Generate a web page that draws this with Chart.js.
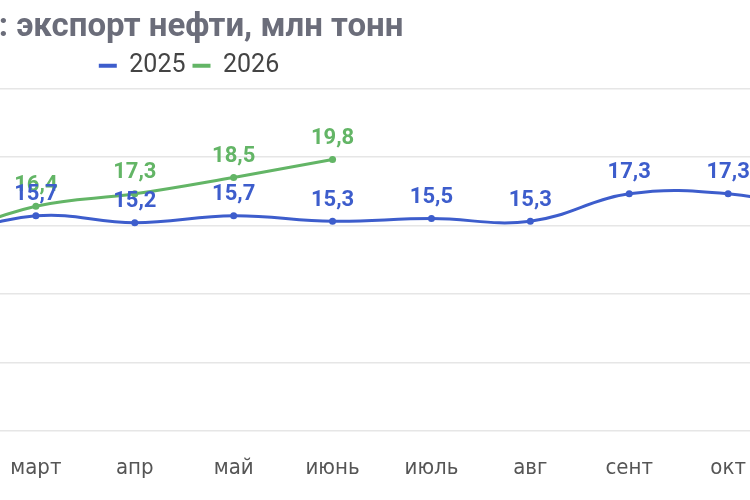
<!DOCTYPE html>
<html>
<head>
<meta charset="utf-8">
<script src="https://cdn.jsdelivr.net/npm/chart.js@4/dist/chart.umd.min.js"></script>
<style>
  html, body { margin: 0; padding: 0; background: #fff; overflow: hidden; width: 750px; height: 500px; }
  /* the picture is a crop of a wider chart, so the canvas runs past both edges */
  #myChart { position: absolute; left: -453px; top: 0; }
</style>
</head>
<body>
<canvas id="myChart" width="1284" height="500"></canvas>
<script>
const months = ["фев", "март", "апр", "май", "июнь", "июль", "авг", "сент", "окт", "ноя"];
const exports2025 = [14.0, 15.7, 15.2, 15.7, 15.3, 15.5, 15.3, 17.3, 17.3, 16.0];
const exports2026 = [14.0, 16.4, 17.3, 18.5, 19.8, null, null, null, null, null];
const yTicks = [0, 5, 10, 15, 20, 25];

const blue = "#3d5dcc";
const green = "#63b566";

// value labels above each point, e.g. "15,7"
const valueLabels = {
  id: "valueLabels",
  afterLayout(chart) {
    // the cut-off title sits a bit right of the legend in the original
    chart.titleBlock.left += 12;
    chart.titleBlock.right += 12;
  },
  afterDatasetsDraw(chart) {
    const ctx = chart.ctx;
    ctx.save();
    ctx.font = "bold 22px Roboto";
    ctx.textAlign = "center";
    ctx.textBaseline = "middle";
    for (let i = chart.data.datasets.length - 1; i >= 0; i--) {
      const ds = chart.data.datasets[i];
      const meta = chart.getDatasetMeta(i);
      ctx.fillStyle = ds.borderColor;
      meta.data.forEach((pt, j) => {
        const v = ds.data[j];
        if (v === null || v === undefined) return;
        ctx.fillText(v.toFixed(1).replace(".", ","), pt.x, pt.y - 21);
      });
    }
    ctx.restore();
  }
};

const ctx = document.getElementById("myChart").getContext("2d");

const chart = new Chart(ctx, {
  type: "line",
  data: {
    labels: months,
    datasets: [
      {
        label: "2025",
        data: exports2025,
        borderColor: blue,
        backgroundColor: blue,
        borderWidth: 3,
        pointRadius: 3.5,
        pointBackgroundColor: blue,
        pointBorderWidth: 0,
        tension: 0.4
      },
      {
        label: "2026",
        data: exports2026,
        borderColor: green,
        backgroundColor: green,
        borderWidth: 3,
        pointRadius: 3.5,
        pointBackgroundColor: green,
        pointBorderWidth: 0,
        tension: 0.4
      }
    ]
  },
  options: {
    responsive: false,
    animation: false,
    layout: { padding: 0 },
    plugins: {
      title: {
        display: true,
        text: ": экспорт нефти, млн тонн",
        color: "#6b6d7a",
        font: { family: "Roboto", size: 33, weight: "bold", lineHeight: 1.1 },
        padding: { top: 10, bottom: 0 }
      },
      legend: {
        display: true,
        labels: {
          color: "#444",
          font: { family: "Roboto", size: 25 },
          boxWidth: 18,
          boxHeight: 4,
          padding: 7,
          generateLabels(chart) {
            return Chart.defaults.plugins.legend.labels.generateLabels(chart)
              .map((l) => ({ ...l, lineWidth: 0 }));
          }
        }
      },
      tooltip: { enabled: false }
    },
    scales: {
      x: {
        grid: { display: false, drawTicks: false },
        border: { display: false },
        ticks: {
          color: "#555",
          font: { family: "'DejaVu Sans Condensed', 'DejaVu Sans'", size: 22 },
          padding: 24,
          maxRotation: 0,
          autoSkip: false
        },
        afterFit(scale) {
          // no room kept for the edge labels, they are off screen anyway
          scale.paddingLeft = 0;
          scale.paddingRight = 0;
          scale.height = 69;
        }
      },
      y: {
        min: 0,
        max: 25,
        afterBuildTicks(scale) {
          scale.ticks = yTicks.map((v) => ({ value: v }));
        },
        afterFit(scale) {
          scale.width = 390;
        },
        grid: { color: "#e6e6e6", lineWidth: 1.5, drawTicks: false },
        border: { display: false },
        ticks: { display: false }
      }
    }
  },
  plugins: [valueLabels]
});
</script>
</body>
</html>
